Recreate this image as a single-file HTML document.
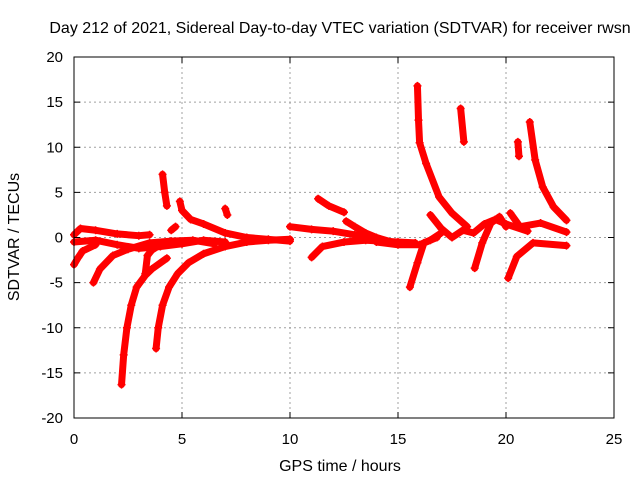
<!DOCTYPE html>
<html><head><meta charset="utf-8"><style>
body{margin:0;background:#fff}
svg{display:block;font-family:"Liberation Sans",sans-serif}
</style></head><body>
<svg id="chart" width="640" height="480" viewBox="0 0 640 480">
<rect width="640" height="480" fill="#fff"/>
<g id="grid"></g>
<g id="series"></g>
<rect x="74" y="57" width="540" height="361" fill="none" stroke="#000" stroke-width="1"/>
<g id="axes"></g>
<text x="340" y="33" font-size="16" text-anchor="middle">Day 212 of 2021, Sidereal Day-to-day VTEC variation (SDTVAR) for receiver rwsn</text>
<text x="340" y="471" font-size="16" text-anchor="middle">GPS time / hours</text>
<text x="0" y="0" font-size="16" text-anchor="middle" transform="translate(19,237) rotate(-90)">SDTVAR / TECUs</text>
</svg>
<script>
const xTicks=[0,5,10,15,20,25];
const yTicks=[-20,-15,-10,-5,0,5,10,15,20];
const trackA=[[0,0.3],[0.3,1.0],[1,0.8],[2,0.4],[3,0.2],[3.5,0.3]];
const trackB=[[0,-0.5],[1,-0.3],[2,-0.8],[3,-1.2],[4,-1.0],[5,-0.7],[6,-0.3],[7,-0.5]];
const trackC=[[0,-3],[0.2,-2.2],[0.4,-1.5],[1,-0.8]];
const trackD=[[0.9,-5],[1.2,-3.5],[1.8,-2],[2.5,-1.3],[3.5,-0.6],[4.5,-0.4],[5.5,-0.3],[6.5,-0.7]];
const trackE=[[2.2,-16.3],[2.3,-13],[2.45,-10],[2.65,-7.5],[2.9,-5.5],[3.3,-4.2],[3.6,-3.5],[4.3,-2.3]];
const trackE2=[[3.3,-4],[3.4,-2],[3.6,-1.4],[4,-0.8]];
const trackF=[[3.8,-12.3],[3.9,-10],[4.1,-7.5],[4.4,-5.5],[4.8,-4],[5.3,-2.8],[6,-1.8],[7,-1],[8,-0.5],[9,-0.3],[10,-0.2]];
const trackG=[[4.1,7],[4.2,5],[4.3,3.5]];
const trackH=[[4.9,4],[5,3],[5.4,2],[6,1.5],[7,0.5],[8,0],[9,-0.2],[10,-0.4]];
const trackI=[[4.5,0.8],[4.7,1.2]];
const trackJ=[[7,3.2],[7.1,2.5]];
const trackK=[[10,1.2],[11,0.9],[12,0.7],[13,0.3],[14,-0.3]];
const trackL=[[11.3,4.3],[11.8,3.5],[12.5,2.8]];
const trackM=[[12.6,1.8],[13,1.2],[13.5,0.5],[14,0],[15,-0.7]];
const trackN=[[11,-2.2],[11.5,-1],[12.5,-0.5],[13.5,-0.3],[15,-0.5],[15.8,-0.6]];
const trackO=[[15.9,16.8],[15.95,13],[16.0,10.5],[16.3,8.2],[16.9,4.5],[17.5,2.7],[18.2,1.2]];
const trackP=[[17.9,14.3],[18.05,10.6]];
const trackQ=[[20.55,10.6],[20.6,9]];
const trackR=[[21.1,12.8],[21.35,8.6],[21.7,5.6],[22.2,3.4],[22.8,1.9]];
const trackS=[[15.55,-5.5],[15.9,-2.8],[16.2,-0.6],[16.8,0]];
const trackT=[[18.55,-3.4],[18.9,-0.6],[19.3,1.6],[19.7,2.3],[20.0,1.2]];
const trackU=[[20.1,-4.5],[20.5,-2.1],[21.25,-0.6],[22.8,-0.9]];
const trackV=[[20.2,2.7],[20.65,1.2],[21.6,1.6],[22.8,0.6]];
const trackW=[[16.5,2.5],[17,1],[17.5,0],[18,0.8],[18.5,0.5],[19,1.5],[19.5,2],[20,1.5],[21,0.7]];
const trackX=[[14,-0.5],[15,-0.8],[16,-0.8],[16.5,-0.3],[17,0.5]];
const tracks=[trackA,trackB,trackC,trackD,trackE,trackE2,trackF,trackG,trackH,trackI,trackJ,trackK,trackL,trackM,trackN,trackO,trackP,trackQ,trackR,trackS,trackT,trackU,trackV,trackW,trackX];
const NS="http://www.w3.org/2000/svg";
const X0=74,X1=614,Y0=418,Y1=57;
function sx(v){return X0+(v-0)/(25-0)*(X1-X0);}
function sy(v){return Y0-(v+20)/40*(Y0-Y1);}
function mk(t,a,p){const e=document.createElementNS(NS,t);for(const k in a)e.setAttribute(k,a[k]);p.appendChild(e);return e;}
const grid=document.getElementById('grid'),axes=document.getElementById('axes'),ser=document.getElementById('series');
xTicks.forEach(v=>{
  if(v>0&&v<25){const g=mk('line',{x1:sx(v),x2:sx(v),y1:Y1,y2:Y0,stroke:'#a0a0a0','stroke-dasharray':'2,3'},grid);
  
  }
  const t=mk('text',{x:sx(v),y:444,'font-size':15,'text-anchor':'middle'},axes);t.textContent=v;
  
  
  mk('line',{x1:sx(v),x2:sx(v),y1:Y0,y2:Y0-6,stroke:'#000'},axes);
  mk('line',{x1:sx(v),x2:sx(v),y1:Y1,y2:Y1+6,stroke:'#000'},axes);
});
yTicks.forEach(v=>{
  if(v>-20&&v<20){const g=mk('line',{x1:X0,x2:X1,y1:sy(v),y2:sy(v),stroke:'#a0a0a0','stroke-dasharray':'2,3'},grid);
  
  }
  const t=mk('text',{x:63,y:sy(v)+5,'font-size':15,'text-anchor':'end'},axes);t.textContent=v;
  
  
  mk('line',{x1:X0,x2:X0+6,y1:sy(v),y2:sy(v),stroke:'#000'},axes);
  mk('line',{x1:X1,x2:X1-6,y1:sy(v),y2:sy(v),stroke:'#000'},axes);
});
tracks.forEach((tr,i)=>{
  const pl=mk('polyline',{points:tr.map(p=>sx(p[0])+','+sy(p[1])).join(' '),fill:'none',stroke:'#f00','stroke-width':7,'stroke-linejoin':'round','stroke-linecap':'round'},ser);
  
  
  tr.forEach(p=>{
    const x=sx(p[0]),y=sy(p[1]);
    const m=mk('path',{d:`M${x-4},${y}H${x+4}M${x},${y-4}V${y+4}`,stroke:'#f00','stroke-width':1.5},ser);
    
    
  });
});
</script>
</body></html>
